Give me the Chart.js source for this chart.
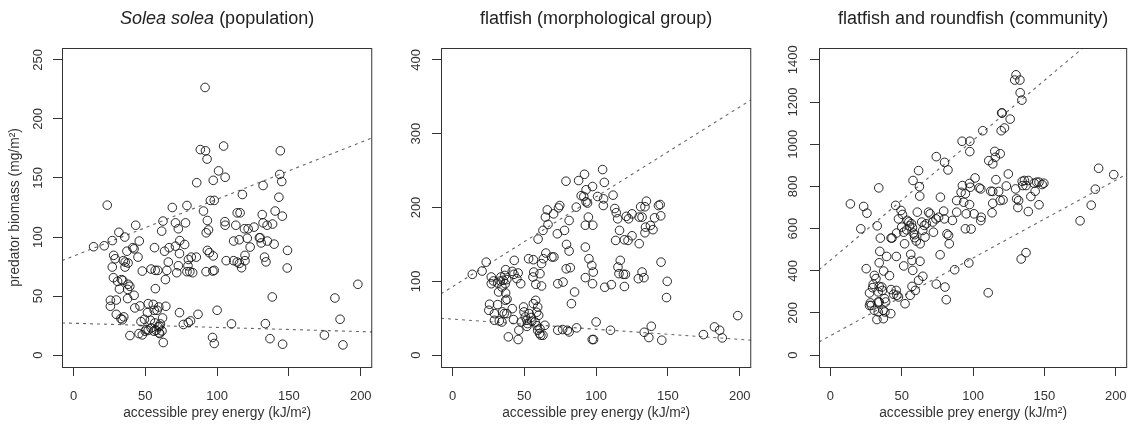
<!DOCTYPE html>
<html>
<head>
<meta charset="utf-8">
<script src="https://cdn.jsdelivr.net/npm/chart.js@4.4.0/dist/chart.umd.min.js"></script>
<style>
  body { margin: 0; background: #fff; }
  canvas { position: absolute; top: 0; }
</style>
</head>
<body>
<canvas id="c1" width="384" height="427" style="left:0"></canvas>
<canvas id="c2" width="379" height="427" style="left:384px"></canvas>
<canvas id="c3" width="376" height="427" style="left:763px"></canvas>
<script>
// x axis shared by all three panels
const xTicks = [0, 50, 100, 150, 200];
const lineX = [-8, 208];

// Solea solea (population)
const soleaPts = [[91.6,226.6],[88.3,174],[91.9,173],[93,166],[104.5,177],[144,173],[101,156],[105.6,150.6],[85.8,146],[97.3,148],[132,143.6],[143.6,153],[145,147],[117.6,136],[143,133.7],[95.3,131],[98,131],[23.5,127],[68.8,125],[79,126.7],[90.5,122],[140.4,122],[145.4,117.7],[114,120.5],[116,120.5],[131.4,119],[93.2,114],[62.3,113.5],[71,112],[78,112],[105.4,113],[105.6,110],[113,110],[132,112],[134.8,110],[138.6,111],[43.3,110],[73,107],[94,106],[92.4,103.6],[119,107],[121.6,107],[125.7,108.4],[31.6,104],[35.7,100],[27,97],[45.8,96.6],[61.4,105],[111.5,96.6],[115.4,97.7],[121,99],[123,91.5],[129.4,99.4],[130,99.4],[130.7,95],[135,96.6],[139.7,94],[149,88.7],[148.8,73.8],[14,91.8],[21.4,92.6],[41.3,91],[42.2,90],[37.2,88],[56.4,91],[63.4,88],[66.6,91],[71,92.3],[77.4,93.7],[74,97],[73.8,86],[82,83],[85.5,83],[93.2,88.7],[94.6,86.7],[97.3,84],[106.3,80],[111.5,80],[114,78.8],[115.5,77.7],[119.4,84.5],[119.4,80],[117,74],[133,83],[134,79],[28,84.5],[29,81.6],[27,74.6],[34.7,80],[36,78.8],[38,78],[35.9,74.6],[44.9,83],[80,81],[79.7,75.7],[73,75.7],[66,78.8],[65,71.8],[71.9,69.8],[54,72.9],[56.9,71.8],[58.7,71.8],[47.9,71.2],[79,70.7],[81,70.7],[83,69.8],[92.3,70.7],[97,71.2],[98,71.8],[64,64],[27.8,65.6],[30.7,62.5],[33.4,64],[34.3,63.3],[32,56],[38,60],[39.2,58.3],[37.7,55.7],[57,56.3],[37.7,47.9],[42.2,50.7],[25.7,46.5],[25.7,41.4],[29.8,46.7],[29.8,34.6],[33,31],[35,32.4],[34,30],[42.7,40],[46.3,41.7],[52,43.6],[55.5,43],[59.4,40.8],[58.2,38],[64.3,41.4],[51.5,36],[56.2,38],[49.4,30.4],[47,28.4],[53.5,29.6],[56.6,27.3],[60.5,26.5],[62,31.5],[73.8,36],[86.7,34.6],[100,38],[76.5,26],[79.9,27.6],[81.5,29],[110,26.5],[133.6,26.7],[138.4,49.3],[39.3,16.6],[45.6,18.3],[47.9,17.2],[50,20.3],[52,21],[50.6,21.7],[54,23],[56,20.3],[57.5,21],[59.6,18.9],[60,18.3],[61.6,20.5],[59,24],[60,24.5],[62.5,10.7],[96.8,15],[98,9.9],[136.8,14],[145.6,9.3],[174.7,17],[182,48.4],[185.6,30.4],[187.6,8.7],[198,60]];
const soleaUpper = [80, 184];
const soleaLower = [27.3, 19.7];
const soleaTicks = [0, 50, 100, 150, 200, 250];

// flatfish (morphological group)
const flatPts = [[104.5,251.4],[91.9,245],[87.8,236.5],[79,235.6],[105.7,234],[97.5,228.4],[93,224],[89.6,216],[91.4,214.9],[101,214.9],[93,207.7],[94,206],[105.2,211.7],[111.8,216.7],[105,202.7],[86.2,200.5],[73.8,199.5],[74.7,202.7],[66,196.8],[70.4,191.4],[64.7,187],[66.5,177],[63,169],[73,164.4],[78,169],[81.2,182.4],[94.6,187],[92.5,176],[97.7,176],[113,198.6],[114,193],[115,184.7],[121,188],[122.6,184.7],[125,191.4],[130,187],[132,187],[131,201],[134,201],[135,208.6],[140.7,186],[143.4,202.7],[144.6,204],[145,188.7],[137.8,175.7],[134.4,173.4],[139.6,170],[134,165.8],[116.3,169],[125,161.7],[119.7,156.3],[122.2,155.4],[113.6,155.4],[130,151],[116.8,128.4],[115.2,119.4],[115.9,110.4],[119,109.5],[120.4,109.5],[119.7,93],[132,112.6],[133.3,105],[129.4,103.6],[145.2,126],[149.5,100],[149,78],[106,92],[110.6,95.5],[92.5,146.4],[95,130.6],[97,121.6],[98,112.6],[92.5,105],[97.5,96.8],[79.4,150],[81.2,141],[79.2,117],[82,118.5],[73.3,96.8],[77,99],[85,85.6],[82.8,69.8],[70.6,133],[69.2,133],[65,138.3],[63.3,130.6],[62,124],[60.9,110.4],[62,93.7],[59.6,157.2],[53,130.6],[56.3,129.3],[56.6,112.6],[56,105.9],[58,96],[43,128.4],[23.5,126],[20.6,114],[13.8,109.5],[41.6,113.5],[42.8,109.5],[45.7,111.3],[37,115.8],[47.5,96.8],[44.8,103.6],[27,105.9],[28.5,100.5],[27,96.8],[31.4,97.7],[33.3,100.5],[33.7,105.9],[35.3,101.4],[36.7,96.8],[34.4,92.3],[37.8,102.3],[36.4,108],[32.1,85.6],[37,84.2],[38,75.7],[37,74.3],[25.8,69],[25.3,60.8],[31.4,68.5],[29.2,56.3],[34.8,58.6],[36,56.3],[32.6,46.4],[34.4,45],[29.2,47.3],[37.8,56.3],[41.6,63],[42.5,48.2],[38.9,24.8],[46.2,33.8],[45.7,21.2],[47.9,45],[49.5,65.3],[49.8,58.6],[50.7,51.8],[51.8,47.3],[52.3,42.8],[51.8,39],[53.4,56.3],[54.8,51],[55.2,46],[56.3,69.8],[57.9,74.3],[59.3,65.3],[58.6,58.1],[57.5,45],[58.8,40],[59.3,33.8],[60.6,29.3],[61.5,27],[63,27],[60,54],[60.9,36],[64.3,40.5],[73.3,33.8],[76.7,34.7],[80,33.8],[81.2,31.5],[86.4,37],[100,45],[97.3,21.2],[98.2,21.2],[110,33.8],[133.5,31],[136.7,23.9],[138.4,39.2],[145.7,20.3],[174.7,27.9],[182.4,38.3],[186,33.8],[187.8,23.4],[198.6,53.6]];
const flatUpper = [83, 346];
const flatLower = [50, 20.3];
const flatTicks = [0, 100, 200, 300, 400];

// flatfish and roundfish (community)
const commPts = [[130.1,1329],[132.8,1304],[129.2,1304],[133,1244],[134.2,1209],[120,1148],[120.4,1148],[126,1119],[122,1077],[119.7,1064],[106.8,1064],[92.3,1014],[97.7,1014],[97.7,965],[74.2,941],[80,914],[82.4,878],[61.8,875],[57.9,828],[62.4,799],[62.6,754],[33.9,793],[14,717],[23.3,705],[25.6,673],[21.3,599],[32.8,613],[35,555],[34.6,492],[34.2,438],[39.4,468],[37.3,399],[41.4,377],[25.1,410],[30.8,378],[31.9,363],[30,336],[29.6,320],[27.4,295],[28,248],[28.7,236],[27.4,236],[34.2,326],[36,323],[36.4,307],[33.5,300],[33.5,252],[30.8,213],[33.5,205],[34.2,252],[38,268],[38.7,252],[32.6,169],[37.1,173],[36.9,213],[38.2,205],[42.3,197],[42.5,311],[44.3,289],[46.6,284],[46.1,307],[47.7,276],[52.3,244],[55.9,284],[59.5,307],[57.2,326],[61.8,355],[64.8,374],[62.8,445],[57.2,449],[57.7,402],[56.3,478],[46.2,468],[51.4,423],[52,528],[42.5,555],[43.2,555],[46.4,579],[45.7,710],[49.5,686],[50.5,667],[47.7,646],[50,607],[51.4,583],[53.4,594],[53.8,639],[55,632],[55.4,613],[56.8,623],[57.5,604],[59,557],[60.2,541],[58.1,579],[59,571],[60.9,678],[64,631],[64.7,591],[65.8,615],[67.2,623],[62.9,528],[66.3,560],[68.8,678],[69.9,670],[71.7,631],[72.2,583],[74,646],[75.8,654],[77.1,749],[76.9,476],[74.2,337],[79.4,683],[79.9,646],[81.7,575],[82.8,568],[83.3,528],[80.3,323],[81.2,263],[85.5,639],[88.5,678],[88.5,733],[91.6,772],[92.5,804],[93.4,725],[94.6,765],[95.2,670],[94.6,599],[98.6,598],[97.5,714],[97.5,814],[98,796],[97,437],[87.1,405],[100.7,670],[101.4,840],[104.3,793],[105.4,788],[105.7,654],[105.4,638],[111,922],[113.8,907],[115.2,966],[115.6,938],[116,832],[112.4,777],[113.8,776],[113.3,675],[113.8,720],[119,955],[117.9,776],[119,733],[121,736],[123.3,802],[124.7,859],[129.8,788],[130.5,741],[131.9,733],[131.4,700],[134.4,824],[136,828],[138.7,828],[134.8,804],[137.1,804],[140.5,752],[138.7,681],[142.8,815],[144.6,820],[146.2,820],[148.4,809],[149.6,815],[143.5,777],[146.2,713],[133.7,456],[137.1,486],[110.6,296],[175,637],[182.8,711],[185.7,787],[188,886],[198.6,856]];
const commUpper = [405, 1632];
const commLower = [63, 859];
const commTicks = [0, 200, 400, 600, 800, 1000, 1200, 1400];

const FONT = "'Liberation Sans', Arial, sans-serif";
const TICK_SIZE = 13;
const LAB_SIZE = 13.8;

// R-style box round the plot region
const boxPlugin = {
  id: 'box',
  afterDraw(chart) {
    const { ctx, chartArea: a } = chart;
    ctx.save();
    ctx.strokeStyle = '#333';
    ctx.lineWidth = 1;
    ctx.strokeRect(a.left + 0.5, a.top + 0.5, a.right - a.left - 1, a.bottom - a.top);
    ctx.restore();
  },
};

// title with mixed italic / plain parts
const titlePlugin = {
  id: 'mixedTitle',
  afterDraw(chart, args, opts) {
    const { ctx, chartArea: a } = chart;
    const parts = opts.parts || [];
    ctx.save();
    ctx.fillStyle = '#222';
    ctx.textBaseline = 'middle';
    let total = 0;
    parts.forEach((p) => {
      ctx.font = p[1] + ' 18px ' + FONT;
      total += ctx.measureText(p[0]).width;
    });
    let x = (a.left + a.right) / 2 - total / 2;
    parts.forEach((p) => {
      ctx.font = p[1] + ' 18px ' + FONT;
      ctx.fillText(p[0], x, 19);
      x += ctx.measureText(p[0]).width;
    });
    ctx.restore();
  },
};

function makeChart(id, pts, upper, lower, yMin, yMax, yTicks, title, yWidth, yPad, rightPad, yLabel) {
  new Chart(document.getElementById(id), {
    type: 'scatter',
    data: {
      datasets: [
        {
          data: pts.map((p) => ({ x: p[0], y: p[1] })),
          pointRadius: 4.3,
          pointBorderWidth: 1,
          borderColor: 'rgba(20,20,20,0.9)',
          pointBackgroundColor: 'rgba(0,0,0,0)',
        },
        {
          data: lineX.map((x, i) => ({ x: x, y: upper[i] })),
          showLine: true,
          pointRadius: 0,
          borderColor: '#666',
          borderWidth: 1.1,
          borderDash: [3, 4],
        },
        {
          data: lineX.map((x, i) => ({ x: x, y: lower[i] })),
          showLine: true,
          pointRadius: 0,
          borderColor: '#666',
          borderWidth: 1.1,
          borderDash: [3, 4],
        },
      ],
    },
    options: {
      responsive: false,
      animation: false,
      layout: { padding: { top: 48, left: 0, right: rightPad, bottom: 0 } },
      plugins: {
        legend: { display: false },
        tooltip: { enabled: false },
        mixedTitle: { parts: title },
      },
      scales: {
        x: {
          type: 'linear',
          min: -8,
          max: 208,
          afterBuildTicks: (s) => { s.ticks = xTicks.map((v) => ({ value: v })); },
          afterFit: (s) => { s.height = 60; },
          border: { display: false },
          grid: { drawOnChartArea: false, drawTicks: true, tickLength: 9, tickColor: '#333' },
          ticks: { color: '#333', padding: 12.2, maxRotation: 0, font: { family: FONT, size: TICK_SIZE } },
          title: {
            display: true,
            text: 'accessible prey energy (kJ/m²)',
            color: '#333',
            padding: { top: 0, bottom: 5.7 },
            font: { family: FONT, size: LAB_SIZE },
          },
        },
        y: {
          type: 'linear',
          min: yMin,
          max: yMax,
          afterBuildTicks: (s) => { s.ticks = yTicks.map((v) => ({ value: v })); },
          afterFit: (s) => { s.width = yWidth; },
          border: { display: false },
          grid: { drawOnChartArea: false, drawTicks: true, tickLength: 9, tickColor: '#333' },
          ticks: {
            color: '#333',
            padding: yPad,
            minRotation: 90,
            maxRotation: 90,
            crossAlign: 'center',
            callback: (v) => String(v),
            font: { family: FONT, size: TICK_SIZE },
          },
          title: {
            display: !!yLabel,
            text: yLabel || '',
            color: '#333',
            padding: { top: 6.7, bottom: 0 },
            font: { family: FONT, size: LAB_SIZE },
          },
        },
      },
    },
    plugins: [boxPlugin, titlePlugin],
  });
}

makeChart('c1', soleaPts, soleaUpper, soleaLower, -10, 260, soleaTicks,
  [['Solea solea', 'italic'], [' (population)', 'normal']], 62, 4.2, 3, 'predator biomass (mg/m²)');
makeChart('c2', flatPts, flatUpper, flatLower, -16, 416, flatTicks,
  [['flatfish (morphological group)', 'normal']], 57, 4.5, 4, '');
makeChart('c3', commPts, commUpper, commLower, -56, 1456, commTicks,
  [['flatfish and roundfish (community)', 'normal']], 56, 2.2, 2, '');
</script>
</body>
</html>
